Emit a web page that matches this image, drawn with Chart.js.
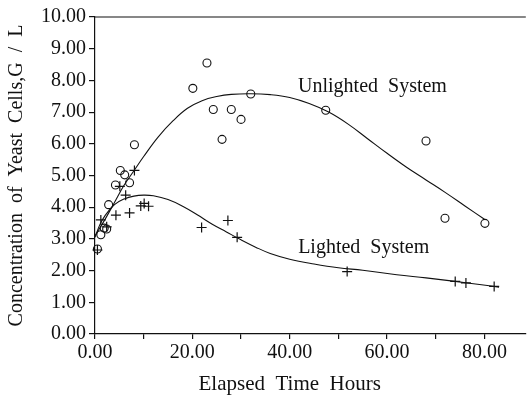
<!DOCTYPE html>
<html>
<head>
<meta charset="utf-8">
<script src="https://cdn.jsdelivr.net/npm/chart.js@4"></script>
<style>
  html, body { margin: 0; padding: 0; background: #fff; }
  canvas { display: block; }
</style>
</head>
<body>
<canvas id="chart" width="532" height="398"></canvas>
<script>
// measured points, unlighted system (circles)
const unlitHours = [0.5, 1.2, 1.9, 2.4, 2.8, 4.2, 5.2, 6.1, 7.1, 8.1, 20.1, 23.0, 24.3, 26.1, 28.0, 30.0, 32.0, 47.4, 68.0, 71.9, 80.1];
const unlitCells = [2.68, 3.13, 3.34, 3.31, 4.08, 4.70, 5.16, 5.02, 4.77, 5.97, 7.75, 8.55, 7.08, 6.14, 7.08, 6.77, 7.57, 7.06, 6.09, 3.65, 3.49];

// measured points, lighted system (crosses)
const litHours = [0.5, 1.2, 2.4, 4.3, 5.1, 6.3, 7.1, 8.1, 9.4, 10.1, 11.0, 21.9, 27.3, 29.2, 51.8, 74.0, 76.2, 82.0];
const litCells = [2.65, 3.60, 3.38, 3.75, 4.66, 4.38, 3.82, 5.16, 4.04, 4.12, 4.03, 3.36, 3.58, 3.05, 1.97, 1.66, 1.61, 1.50];

// fitted curves
const unlitFitHours = [0, 2, 4, 6, 8, 10, 13, 16, 19, 22, 25, 28, 32, 36, 40, 44, 48, 52, 56, 60, 64, 68, 72, 76, 80];
const unlitFitCells = [3.10, 3.60, 4.15, 4.70, 5.15, 5.60, 6.22, 6.72, 7.12, 7.36, 7.49, 7.56, 7.58, 7.55, 7.46, 7.27, 7.00, 6.62, 6.16, 5.70, 5.26, 4.86, 4.46, 4.04, 3.62];

const litFitHours = [0, 1, 2, 4, 6, 8, 10, 12, 15, 18, 21, 24, 27, 30, 33, 36, 40, 45, 50, 55, 62, 68, 74, 79, 83];
const litFitCells = [3.05, 3.45, 3.72, 4.08, 4.26, 4.35, 4.38, 4.36, 4.24, 4.03, 3.76, 3.47, 3.22, 2.97, 2.74, 2.54, 2.36, 2.21, 2.09, 2.01, 1.87, 1.77, 1.66, 1.56, 1.48];

const yTicks = [0, 1, 2, 3, 4, 5, 6, 7, 8, 9, 10];

const ink = '#111';
const serif = "'Liberation Serif', 'DejaVu Serif', serif";
Chart.defaults.font.family = serif;
Chart.defaults.color = ink;

const toXY = (xs, ys) => xs.map((x, i) => ({ x, y: ys[i] }));

const textPlugin = {
  id: 'figureText',
  afterDraw(chart) {
    const { ctx, chartArea, scales } = chart;
    const x = scales.x, y = scales.y;
    ctx.save();
    // top frame line
    ctx.strokeStyle = ink;
    ctx.lineWidth = 1.2;
    ctx.beginPath();
    ctx.moveTo(chartArea.left, chartArea.top);
    ctx.lineTo(chartArea.right, chartArea.top);
    ctx.stroke();

    ctx.fillStyle = ink;
    ctx.font = '20px ' + serif;
    ctx.textAlign = 'center';
    ctx.textBaseline = 'alphabetic';
    ctx.fillText('Unlighted  System', x.getPixelForValue(57), y.getPixelForValue(7.63));
    ctx.fillText('Lighted  System', x.getPixelForValue(55.2), y.getPixelForValue(2.57));

    ctx.font = '21px ' + serif;
    ctx.fillText('Elapsed  Time  Hours', x.getPixelForValue(40), 390);
    ctx.restore();
  }
};

new Chart(document.getElementById('chart'), {
  type: 'scatter',
  data: {
    datasets: [
      {
        label: 'Unlighted System',
        data: toXY(unlitHours, unlitCells),
        pointStyle: 'circle',
        pointRadius: 4,
        pointBorderWidth: 1.1,
        pointBorderColor: ink,
        pointBackgroundColor: 'rgba(0,0,0,0)',
        clip: false,
      },
      {
        label: 'Lighted System',
        data: toXY(litHours, litCells),
        pointStyle: 'cross',
        pointRadius: 5,
        pointBorderWidth: 1.2,
        pointBorderColor: ink,
        clip: false,
      },
      {
        label: 'Unlighted fit',
        data: toXY(unlitFitHours, unlitFitCells),
        showLine: true,
        pointRadius: 0,
        borderColor: ink,
        borderWidth: 1.1,
        tension: 0.4,
      },
      {
        label: 'Lighted fit',
        data: toXY(litFitHours, litFitCells),
        showLine: true,
        pointRadius: 0,
        borderColor: ink,
        borderWidth: 1.1,
        tension: 0.4,
        clip: false,
      },
    ],
  },
  options: {
    responsive: false,
    animation: false,
    devicePixelRatio: 1,
    layout: { padding: { top: 17, right: 0, bottom: 0, left: 0 } },
    plugins: {
      legend: { display: false },
      tooltip: { enabled: false },
    },
    scales: {
      x: {
        type: 'linear',
        min: 0,
        max: 88.5,
        afterFit: (scale) => { scale.height = 64; },
        border: { display: true, color: ink, width: 1.2 },
        grid: { drawOnChartArea: false, color: ink, tickLength: 5, lineWidth: 1.2 },
        ticks: {
          stepSize: 10,
          includeBounds: false,
          padding: 2,
          maxRotation: 0,
          autoSkip: false,
          font: { size: 20 },
          color: ink,
          callback: (v) => (v % 20 === 0 ? v.toFixed(2) : ''),
        },
      },
      y: {
        min: 0,
        max: 10,
        afterFit: (scale) => { scale.width = 95; },
        afterBuildTicks: (scale) => { scale.ticks = yTicks.map((v) => ({ value: v })); },
        border: { display: true, color: ink, width: 1.2 },
        grid: { drawOnChartArea: false, color: ink, tickLength: 6, lineWidth: 1.2 },
        ticks: {
          padding: 3,
          font: { size: 20 },
          color: ink,
          callback: (v) => v.toFixed(2),
        },
        title: {
          display: true,
          text: 'Concentration  of  Yeast  Cells,G  /  L',
          font: { size: 20 },
          color: ink,
          padding: { top: 5, bottom: 0 },
        },
      },
    },
  },
  plugins: [textPlugin],
});
</script>
</body>
</html>
